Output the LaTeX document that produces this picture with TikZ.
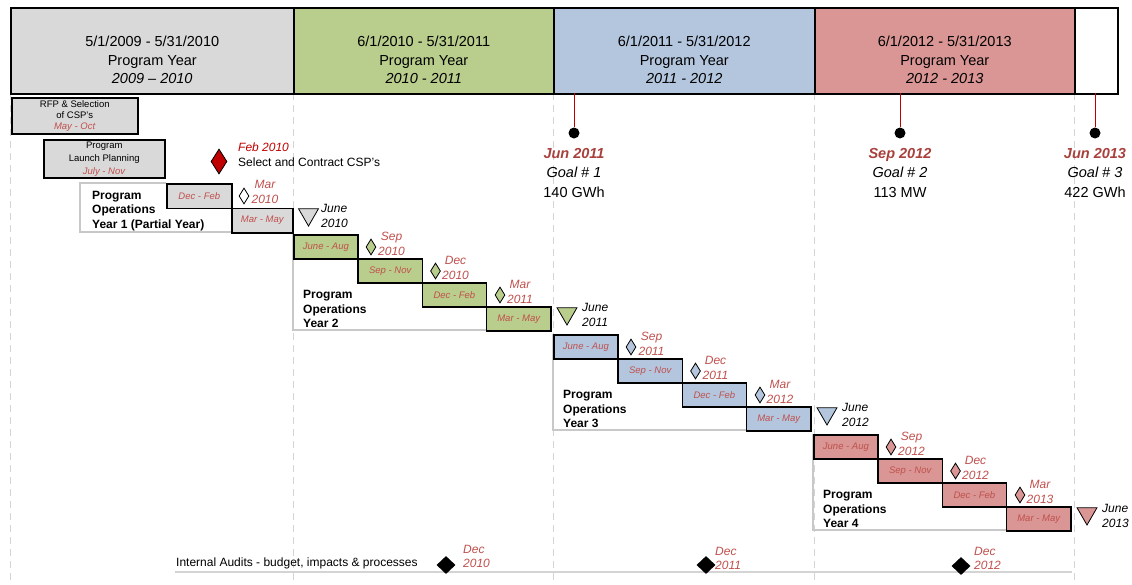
\documentclass[tikz,border=0pt]{standalone}
\usepackage{fontspec}
\setmainfont{Liberation Sans}
\usetikzlibrary{shapes.geometric}
\definecolor{pygray}{HTML}{D9D9D9}
\definecolor{pygreen}{HTML}{B9CD8C}
\definecolor{pyblue}{HTML}{B3C6DE}
\definecolor{pyred}{HTML}{D99694}
\definecolor{qred}{HTML}{C0504D}
\definecolor{goalred}{HTML}{A8403C}
\definecolor{keyred}{HTML}{C00000}
\definecolor{gridgray}{HTML}{D4D4D4}
\definecolor{framegray}{HTML}{C8C8C8}

\begin{document}
\begin{tikzpicture}[x=1pt, y=-1pt,
    hdr/.style={draw, line width=1.5pt, anchor=north west, inner sep=0, minimum height=86pt},
    hdrtext/.style={align=center, inner sep=0, font=\fontsize{14.5}{18.5}\selectfont},
    task/.style={draw, line width=1.5pt, fill=pygray, anchor=north west, inner sep=0, align=center},
    qbox/.style={draw, line width=1.6pt, anchor=north west, inner sep=0, minimum width=64.25pt,
        minimum height=24pt, text=qred, font=\fontsize{9.5}{10}\selectfont\itshape},
    opstext/.style={anchor=west, align=left, inner sep=0, font=\fontsize{12}{14.5}\selectfont\bfseries},
    frame/.style={draw=framegray, line width=1.5pt},
    gridline/.style={draw=gridgray, line width=1pt, dash pattern=on 7pt off 5pt},
    ms/.style={diamond, draw, line width=0.8pt, inner sep=0, minimum width=10pt, minimum height=16pt},
    mstext/.style={align=center, inner sep=0, text=qred, font=\fontsize{12}{15}\selectfont\itshape},
    yearend/.style={regular polygon, regular polygon sides=3, shape border rotate=180, draw,
        line width=0.8pt, inner sep=0, minimum size=23pt},
    endtext/.style={anchor=west, align=left, inner sep=0, font=\fontsize{12}{15}\selectfont\itshape},
    goal/.style={circle, fill=black, inner sep=0, minimum size=11pt},
    goalline/.style={draw=keyred, line width=1pt},
    goaltext/.style={align=center, inner sep=0, font=\fontsize{14.5}{19.5}\selectfont},
    audit/.style={diamond, fill=black, inner sep=0, minimum width=19pt, minimum height=18pt},
    audtext/.style={anchor=west, align=left, inner sep=0, text=qred, font=\fontsize{12}{14}\selectfont\itshape}]

    \useasboundingbox (0,0) rectangle (1132,584);

    % Grid
    \draw[gridline] (10,93) -- (10,584);
    \draw[gridline] (293,93) -- (293,584);
    \draw[gridline] (553,93) -- (553,584);
    \draw[gridline] (814,93) -- (814,584);
    \draw[gridline] (1074,93) -- (1074,584);

    % Program years
    \node[hdr, fill=pygray, minimum width=283pt] (h1) at (10,7) {};
    \node[hdr, fill=pygreen, minimum width=260pt] (h2) at (293,7) {};
    \node[hdr, fill=pyblue, minimum width=261pt] (h3) at (553,7) {};
    \node[hdr, fill=pyred, minimum width=260pt] (h4) at (814,7) {};
    \node[hdr, fill=white, minimum width=43pt] (h5) at (1074,7) {};
    \node[hdrtext] (h1t) at ([yshift=-9.5pt]h1.center) {5/1/2009 - 5/31/2010\\Program Year\\\textit{2009 – 2010}};
    \node[hdrtext] (h2t) at ([yshift=-9.5pt]h2.center) {6/1/2010 - 5/31/2011\\Program Year\\\textit{2010 - 2011}};
    \node[hdrtext] (h3t) at ([yshift=-9.5pt]h3.center) {6/1/2011 - 5/31/2012\\Program Year\\\textit{2011 - 2012}};
    \node[hdrtext] (h4t) at ([yshift=-9.5pt]h4.center) {6/1/2012 - 5/31/2013\\Program Year\\\textit{2012 - 2013}};

    % Goals
    \coordinate (g1top) at (574,93);
    \coordinate (g2top) at (900,93);
    \coordinate (g3top) at (1095,93);
    \node[goal] (g1) at (574,133) {};
    \node[goal] (g2) at (900,133) {};
    \node[goal] (g3) at (1095,133) {};
    \draw[goalline] (g1top) -- (g1);
    \draw[goalline] (g2top) -- (g2);
    \draw[goalline] (g3top) -- (g3);
    \node[goaltext] (g1t) at (574,173) {\textcolor{goalred}{\bfseries\itshape Jun 2011}\\\textit{Goal \# 1}\\140 GWh};
    \node[goaltext] (g2t) at (900,173) {\textcolor{goalred}{\bfseries\itshape Sep 2012}\\\textit{Goal \# 2}\\113 MW};
    \node[goaltext] (g3t) at (1095,173) {\textcolor{goalred}{\bfseries\itshape Jun 2013}\\\textit{Goal \# 3}\\422 GWh};

    % Start-up
    \node[task, minimum width=126pt, minimum height=36pt, font=\fontsize{9.5}{11}\selectfont] (rfp) at (11,97)
        {RFP \& Selection\\of CSP’s\\\textcolor{qred}{\textit{May - Oct}}};
    \node[task, minimum width=121pt, minimum height=38pt, font=\fontsize{9.5}{13}\selectfont] (launch) at (43,139)
        {Program\\Launch Planning\\\textcolor{qred}{\textit{July -  Nov}}};
    \node[diamond, draw, fill=keyred, line width=0.8pt, inner sep=0, minimum width=16pt, minimum height=25pt] (contract) at (219,161.5) {};
    \node[endtext, font=\fontsize{12}{15}\selectfont] (contractt) at (238,154.5)
        {\textcolor{keyred}{\textit{Feb 2010}}\\Select and Contract CSP’s};

    % Year 1
    \draw[frame] (166,183) -- (80,183) -- (80,232) -- (231,232);
    \node[qbox, fill=pygray, minimum width=65pt, minimum height=24.5pt] (y1q3) at (166,183) {Dec - Feb};
    \node[qbox, fill=pygray, minimum width=61pt, minimum height=24.5pt] (y1q4) at (231,207.5) {Mar - May};
    \node[opstext] (y1t) at (92,211) {Program\\Operations\\Year 1 (Partial Year)};
    \node[ms, fill=white] (y1m3) at (244,196) {};
    \node[mstext] (y1m3t) at (265,192) {Mar\\2010};
    \node[yearend, fill=pygray] (y1end) at (308.5,214.5) {};
    \node[endtext] (y1endt) at (321,215.5) {June\\2010};

    % Year 2
    \draw[frame] (293,234) -- (293,330) -- (485.75,330);
    \node[qbox, fill=pygreen] (y2q1) at (293,234) {June - Aug};
    \node[qbox, fill=pygreen] (y2q2) at (357.25,258) {Sep - Nov};
    \node[qbox, fill=pygreen] (y2q3) at (421.5,282) {Dec - Feb};
    \node[qbox, fill=pygreen] (y2q4) at (485.75,306) {Mar - May};
    \node[opstext] (y2t) at (303,309) {Program\\Operations\\Year 2};
    \node[ms, fill=pygreen] (y2m1) at (371,247) {};
    \node[ms, fill=pygreen] (y2m2) at (435.5,271) {};
    \node[ms, fill=pygreen] (y2m3) at (500,295) {};
    \node[mstext] (y2m1t) at (391.5,243.5) {Sep\\2010};
    \node[mstext] (y2m2t) at (455.5,267.5) {Dec\\2010};
    \node[mstext] (y2m3t) at (520,291.5) {Mar\\2011};
    \node[yearend, fill=pygreen] (y2end) at (567,313.5) {};
    \node[endtext] (y2endt) at (582,315) {June\\2011};

    % Year 3
    \draw[frame] (553,334) -- (553,430) -- (745.75,430);
    \node[qbox, fill=pyblue] (y3q1) at (553,334) {June - Aug};
    \node[qbox, fill=pyblue] (y3q2) at (617.25,358) {Sep - Nov};
    \node[qbox, fill=pyblue] (y3q3) at (681.5,382) {Dec - Feb};
    \node[qbox, fill=pyblue] (y3q4) at (745.75,406) {Mar - May};
    \node[opstext] (y3t) at (563,409) {Program\\Operations\\Year 3};
    \node[ms, fill=pyblue] (y3m1) at (631,347) {};
    \node[ms, fill=pyblue] (y3m2) at (695.5,371) {};
    \node[ms, fill=pyblue] (y3m3) at (760,395) {};
    \node[mstext] (y3m1t) at (651.5,343.5) {Sep\\2011};
    \node[mstext] (y3m2t) at (715.5,367.5) {Dec\\2011};
    \node[mstext] (y3m3t) at (780,391.5) {Mar\\2012};
    \node[yearend, fill=pyblue] (y3end) at (827,413.5) {};
    \node[endtext] (y3endt) at (842,415) {June\\2012};

    % Year 4
    \draw[frame] (813,434) -- (813,530) -- (1005.75,530);
    \node[qbox, fill=pyred] (y4q1) at (813,434) {June - Aug};
    \node[qbox, fill=pyred] (y4q2) at (877.25,458) {Sep - Nov};
    \node[qbox, fill=pyred] (y4q3) at (941.5,482) {Dec - Feb};
    \node[qbox, fill=pyred] (y4q4) at (1005.75,506) {Mar - May};
    \node[opstext] (y4t) at (823,509) {Program\\Operations\\Year 4};
    \node[ms, fill=pyred] (y4m1) at (891,447) {};
    \node[ms, fill=pyred] (y4m2) at (955.5,471) {};
    \node[ms, fill=pyred] (y4m3) at (1020,495) {};
    \node[mstext] (y4m1t) at (911.5,443.5) {Sep\\2012};
    \node[mstext] (y4m2t) at (975.5,467.5) {Dec\\2012};
    \node[mstext] (y4m3t) at (1040,491.5) {Mar\\2013};
    \node[yearend, fill=pyred] (y4end) at (1087,513.5) {};
    \node[endtext] (y4endt) at (1102,515.5) {June\\2013};

    % Audits
    \draw[draw=gridgray, line width=1.2pt] (175,572) -- (1072,572);
    \node[anchor=west, inner sep=0, font=\fontsize{12}{14}\selectfont] (audt) at (176,563)
        {Internal Audits - budget, impacts \& processes};
    \node[audit] (a1) at (446,565) {};
    \node[audit] (a2) at (706,565) {};
    \node[audit] (a3) at (961,566) {};
    \node[audtext] (a1t) at (463,556.5) {Dec\\2010};
    \node[audtext] (a2t) at (715,558) {Dec\\2011};
    \node[audtext] (a3t) at (974,558.5) {Dec\\2012};

\end{tikzpicture}
\end{document}
